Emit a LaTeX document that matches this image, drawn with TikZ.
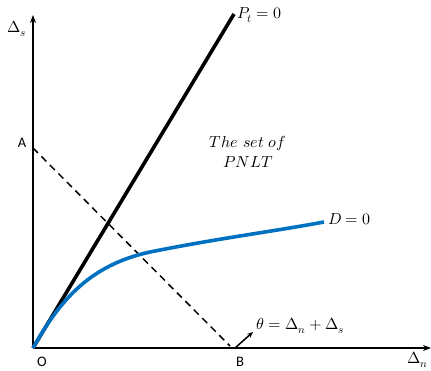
\documentclass[tikz,border=0pt]{standalone}
\usepackage{fontspec}
\usepackage{unicode-math}
\setmathfont{Latin Modern Math}
\newfontfamily\lblfont{Carlito}
\usetikzlibrary{arrows.meta}
\definecolor{curveblue}{RGB}{0,112,192}
\begin{document}
\begin{tikzpicture}[x=1pt,y=-1pt,
  axis/.style={line width=2pt,-{Stealth[length=8pt,width=6pt]}},
  lbl/.style={font=\fontsize{14.5}{16}\selectfont\lblfont,inner sep=0pt},
  mlbl/.style={font=\fontsize{16}{20}\selectfont,inner sep=0pt},
  thick line/.style={line width=3.6pt},
  dline/.style={line width=1.5pt,dash pattern=on 7pt off 5pt}]
\useasboundingbox (0,0) rectangle (431,370);
\coordinate (O) at (33,348);
\coordinate (ytip) at (33,15);
\coordinate (xtip) at (431,348);
\coordinate (Ptop) at (234,14);
\coordinate (Apt) at (33,148);
\coordinate (Bpt) at (230,346);
\coordinate (Barr) at (235,348);
\coordinate (Barrtip) at (253,332);
\coordinate (Dend) at (324,222);
\draw[axis] (O) -- (ytip);
\draw[axis] (O) -- (xtip);
\draw[thick line,black] (O) -- (Ptop);
\draw[dline] (Apt) -- (Bpt);
\draw[line width=1.5pt,-{Stealth[length=6pt,width=5pt]}] (Barr) -- (Barrtip);
\draw[thick line,curveblue] (O) .. controls (60,300) and (90,265) .. (150,252) .. controls (220,238) and (270,232) .. (Dend);
\node[mlbl,anchor=west] (ds) at (7,29) {$\Delta_s$};
\node[mlbl,anchor=west] (dn) at (407,360) {$\Delta_n$};
\node[lbl] (A) at (22,143) {A};
\node[lbl] (Olab) at (42,362) {O};
\node[lbl] (B) at (240,362) {B};
\node[mlbl,anchor=west] (pt) at (237,15) {$P_t=0$};
\node[mlbl,anchor=west] (d0) at (328,219) {$D=0$};
\node[mlbl,anchor=west] (th) at (256,326) {$\theta=\Delta_n+\Delta_s$};
\node[mlbl,align=center] (set) at (248,152) {$The\ set\ of$\\$PNLT$};
\end{tikzpicture}
\end{document}
